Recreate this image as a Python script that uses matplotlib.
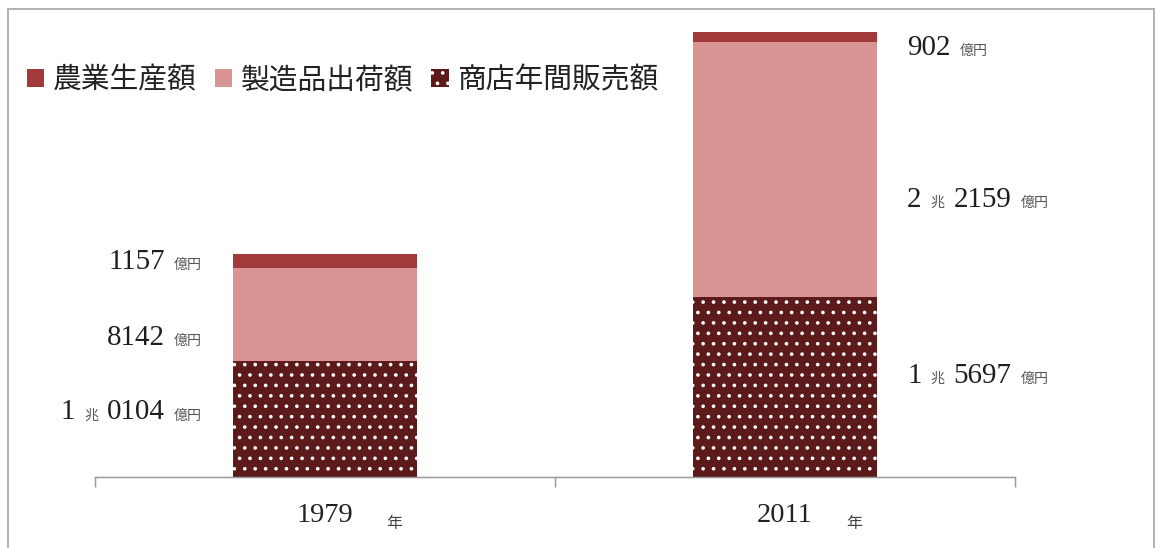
import matplotlib
matplotlib.use('Agg')
import numpy as np
import matplotlib.pyplot as plt
from matplotlib.offsetbox import TextArea, HPacker, AnnotationBbox
from matplotlib.patches import Rectangle

# values in 億円
years = ['1979', '2011']
series_names = ['農業生産額', '製造品出荷額', '商店年間販売額']
agri = [1157, 902]
manuf = [8142, 22159]
retail = [10104, 15697]

DPI = 125
PT = 72 / DPI  # points per pixel
W, H = 1157, 548

plt.rcParams['font.family'] = ['Liberation Serif', 'Noto Sans CJK JP']
plt.rcParams['hatch.linewidth'] = 0.9
CJK = ['Noto Sans CJK JP', 'DejaVu Sans']

fig = plt.figure(figsize=(W / DPI, H / DPI), dpi=DPI)
ax = fig.add_axes([95 / W, 71 / H, 920 / W, 457 / H])

c_agri, c_manuf, c_retail = '#a23a3c', '#d99594', '#5c1a1b'
x = np.arange(len(years))
bw = 0.4
bot_manuf = np.array(retail)
bot_agri = bot_manuf + np.array(manuf)
totals = bot_agri + np.array(agri)

b_retail = ax.bar(x, retail, bw, color=c_retail, edgecolor='white', linewidth=0,
                  hatch='..', label=series_names[2])
b_manuf = ax.bar(x, manuf, bw, bottom=bot_manuf, color=c_manuf, linewidth=0,
                 label=series_names[1])
b_agri = ax.bar(x, agri, bw, bottom=bot_agri, color=c_agri, linewidth=0,
                label=series_names[0])

ax.set_xlim(-0.5, len(years) - 0.5)
ax.set_ylim(0, totals.max() * 1.027)

for s in ['top', 'left', 'right']:
    ax.spines[s].set_visible(False)
ax.spines['bottom'].set_color('#9a9a9a')
ax.spines['bottom'].set_linewidth(1.5 * PT)
ax.set_yticks([])

ax.set_xticks(x, years)
ax.set_xticks(np.arange(len(years) + 1) - 0.5, minor=True)
ax.tick_params(axis='x', which='major', length=0, pad=26 * PT,
               labelsize=28.5 * PT, labelcolor='#222222')
ax.tick_params(axis='x', which='minor', length=10 * PT, width=1.5 * PT,
               color='#9a9a9a', direction='out')
for xi in x:
    ax.annotate('年', xy=(xi, 0), xycoords=('data', 'axes fraction'),
                xytext=(69 * PT, -51 * PT), textcoords='offset points',
                ha='center', va='baseline', fontsize=16 * PT,
                family=CJK, color='#444444')


def label_parts(v):
    cho, oku = divmod(v, 10000)
    if cho:
        parts = [(str(cho), 'n'), ('兆', 'u'), (f'{oku:04d}', 'n')]
    else:
        parts = [(str(oku), 'n')]
    return parts + [('億円', 'u')]


def make_label(v):
    kids = []
    for txt, kind in label_parts(v):
        if kind == 'n':
            kids.append(TextArea(txt, textprops=dict(fontsize=29 * PT,
                                                     family='Liberation Serif',
                                                     color='#1e1e1e')))
        else:
            kids.append(TextArea(txt, textprops=dict(fontsize=14 * PT,
                                                     family=CJK,
                                                     color='#555555')))
    return HPacker(children=kids, align='baseline', pad=0, sep=9 * PT)


# label offsets from segment centres, pixels (down positive)
dy = {0: [1.5, 23.5, -6.5], 1: [10.5, 30, -11]}
for i in range(len(years)):
    left = i == 0
    xe = x[i] - bw / 2 if left else x[i] + bw / 2
    dx = -31 if left else 30
    segs = [(agri[i], bot_agri[i]), (manuf[i], bot_manuf[i]), (retail[i], 0)]
    for k, (v, b) in enumerate(segs):
        ab = AnnotationBbox(make_label(v), (xe, b + v / 2), xycoords='data',
                            xybox=(dx * PT, -dy[i][k] * PT), boxcoords='offset points',
                            box_alignment=(1 if left else 0, 0.5),
                            frameon=False, pad=0)
        ax.add_artist(ab)

fig.legend(handles=[b_agri, b_manuf, b_retail], loc='center left',
           bbox_to_anchor=(27 / W, 1 - 80 / H), ncol=3, frameon=False,
           prop=dict(family=CJK, size=28.8 * PT), labelcolor='#222222',
           handlelength=0.6, handleheight=0.6, handletextpad=0.3,
           columnspacing=0.63, borderpad=0, borderaxespad=0)

fig.patches.append(Rectangle((8 / W, -0.05), (1154 - 8) / W, 1.05 - 9 / H,
                             transform=fig.transFigure, fill=False,
                             edgecolor='#b4b4b4', linewidth=2 * PT))

fig.savefig('out.png', dpi=DPI)
